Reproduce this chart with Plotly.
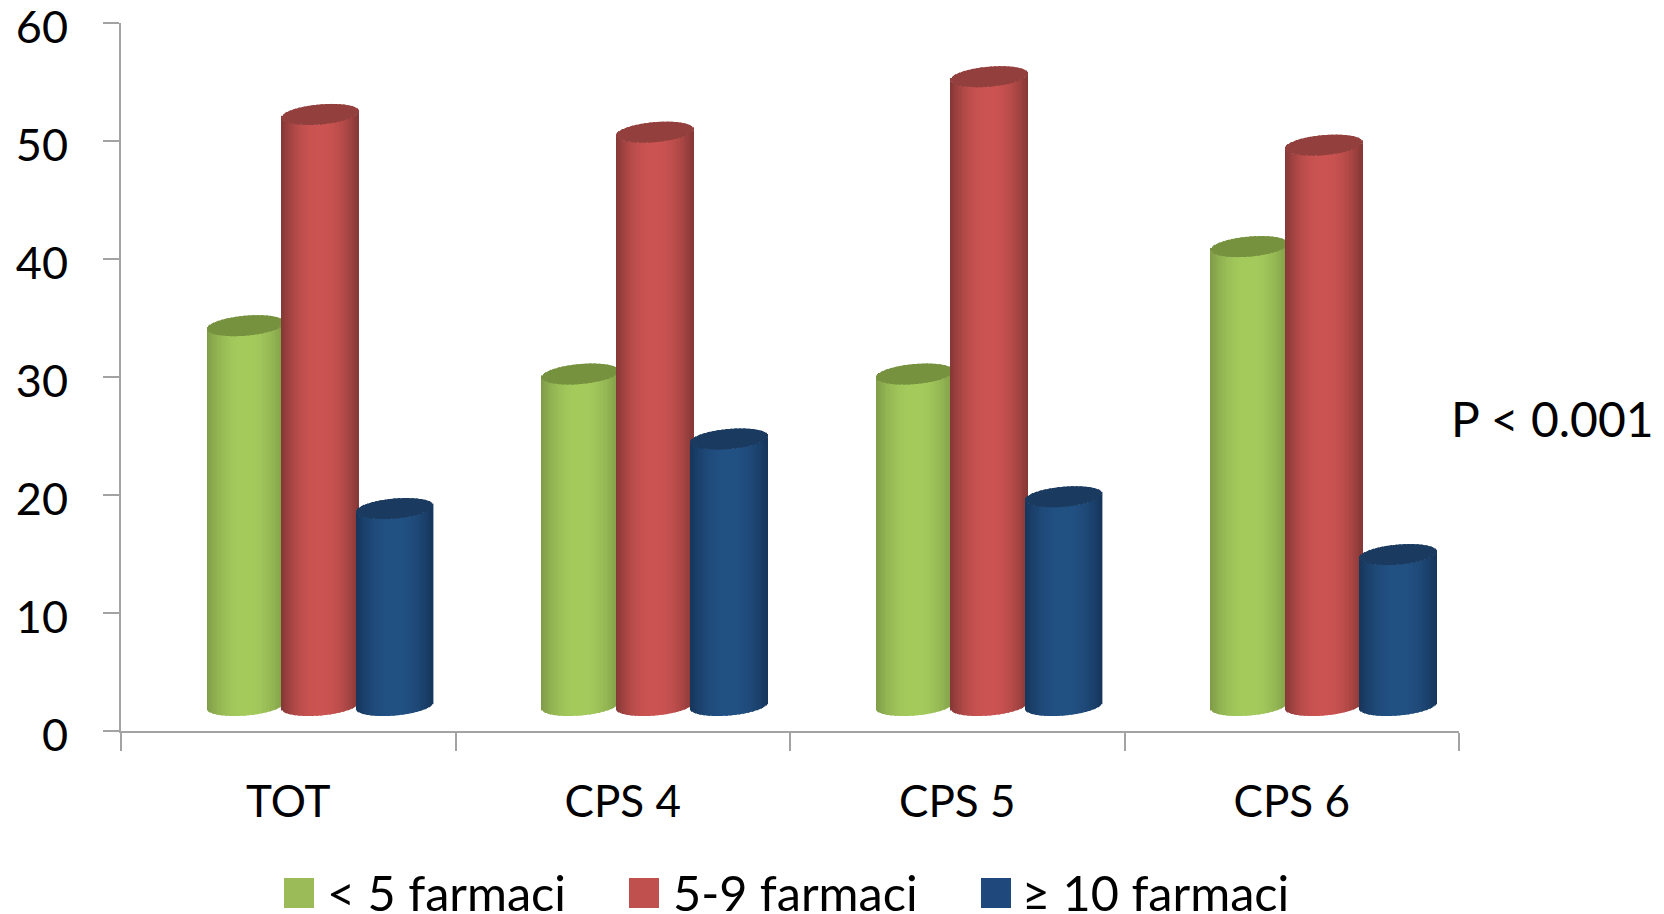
import numpy as np
import plotly.graph_objects as go

categories = ["TOT", "CPS 4", "CPS 5", "CPS 6"]
series_names = ["< 5 farmaci", "5-9 farmaci", "≥ 10 farmaci"]
under_5 = [34.35, 30.25, 30.25, 41.05]
from_5_to_9 = [52.25, 50.75, 55.45, 49.65]
over_10 = [18.85, 24.75, 19.85, 14.95]
y_ticks = [0, 10, 20, 30, 40, 50, 60]

W, H = 1664, 914
L, R, T, B = 121, 205, 23, 183
PW, PH = W - L - R, H - T - B
PX_Y = PH / 60.0
PX_X = PW / 4.0

FONT = "Lato"
TXT = "#000000"
AXIS = "#A3A3A3"
styles = [
    dict(center="#A5CB5D", edge="#7F9C48", cap="#76923F", key="#9BBB59"),
    dict(center="#CC5452", edge="#843836", cap="#933F3D", key="#C0504D"),
    dict(center="#225184", edge="#16355A", cap="#1B3A60", key="#1F497D"),
]
series = [under_5, from_5_to_9, over_10]

CYL_PX = 77.0
STEP_PX = 74.4
FIRST_PX = 246.0 - L
BASE_PX = 25.5
B_PX = 10.0
TILT_PX = 3.2
N = 60


def rgb(h):
    return np.array([int(h[i:i + 2], 16) for i in (1, 3, 5)], float)


def shade(c, e, t):
    f = abs(2 * t - 1) ** 2.2
    v = rgb(c) * (1 - f) + rgb(e) * f
    return "rgb(%d,%d,%d)" % tuple(v)


fig = go.Figure()
u = np.linspace(-1, 1, N, endpoint=False) + 1.0 / N
half = np.sqrt(1 - u ** 2)
slice_w = CYL_PX / PX_X / N

for s, (name, vals, st) in enumerate(zip(series_names, series, styles)):
    xs, bases, heights, cols = [], [], [], []
    for c, v in enumerate(vals):
        cx = c + (FIRST_PX + s * STEP_PX) / PX_X
        x = cx + u * (CYL_PX / 2) / PX_X
        tilt = u * TILT_PX / PX_Y
        bot = BASE_PX / PX_Y + tilt - half * B_PX / PX_Y
        low = v + tilt - half * B_PX / PX_Y
        high = v + tilt + half * B_PX / PX_Y
        xs += list(x) + list(x)
        bases += list(bot) + list(low)
        heights += list(low - bot + 0.03) + list(high - low)
        cols += [shade(st["center"], st["edge"], (k + 0.5) / N) for k in range(N)]
        cols += [st["cap"]] * N
    fig.add_trace(go.Bar(x=xs, y=heights, base=bases, width=slice_w * 1.15,
                         marker=dict(color=cols, line=dict(width=0)),
                         name=name, showlegend=False, hoverinfo="skip"))


def px(xp):
    return (xp - L) / PW


def py(yp):
    return 1 - (yp - T) / PH


annotations = [dict(text="P < 0.001", x=px(1449), y=py(419), xref="paper", yref="paper",
                    xanchor="left", yanchor="middle", showarrow=False,
                    font=dict(family=FONT, size=48, color=TXT))]
shapes = []
key_x = [284, 629, 981]
text_x = [325, 671, 1020]
for name, st, kx, tx in zip(series_names, styles, key_x, text_x):
    shapes.append(dict(type="rect", xref="paper", yref="paper", x0=px(kx), x1=px(kx + 30),
                       y0=py(908), y1=py(878), fillcolor=st["key"], line=dict(width=0)))
    annotations.append(dict(text=name, x=px(tx), y=py(892), xref="paper", yref="paper",
                            xanchor="left", yanchor="middle", showarrow=False,
                            font=dict(family=FONT, size=48.6, color=TXT)))

fig.update_layout(
    width=W, height=H, autosize=False,
    margin=dict(l=L, r=R, t=T, b=B, pad=0, autoexpand=False),
    paper_bgcolor="white", plot_bgcolor="white",
    barmode="overlay", showlegend=False,
    shapes=shapes, annotations=annotations,
    xaxis=dict(range=[0, 4], tickvals=[i + 0.5 for i in range(4)], ticktext=categories,
               ticks="", showgrid=False, zeroline=False, showline=True, automargin=False,
               linecolor=AXIS, linewidth=2, ticklabelstandoff=31,
               tickfont=dict(family=FONT, size=44, color=TXT),
               minor=dict(tickvals=[0, 1, 2, 3, 4], ticks="outside", ticklen=18,
                          tickwidth=2, tickcolor=AXIS, showgrid=False)),
    yaxis=dict(range=[0, 60], tickvals=y_ticks, ticks="outside", ticklen=16, tickwidth=2,
               tickcolor=AXIS, showgrid=False, zeroline=False, showline=True, automargin=False,
               linecolor=AXIS, linewidth=2, ticklabelstandoff=26, ticklabeloverflow="allow",
               ticklabelshift=4,
               tickfont=dict(family=FONT, size=45, color=TXT)),
)

fig.write_html("out.html", post_script="document.body.style.margin='0';", config={"displayModeBar": False})
